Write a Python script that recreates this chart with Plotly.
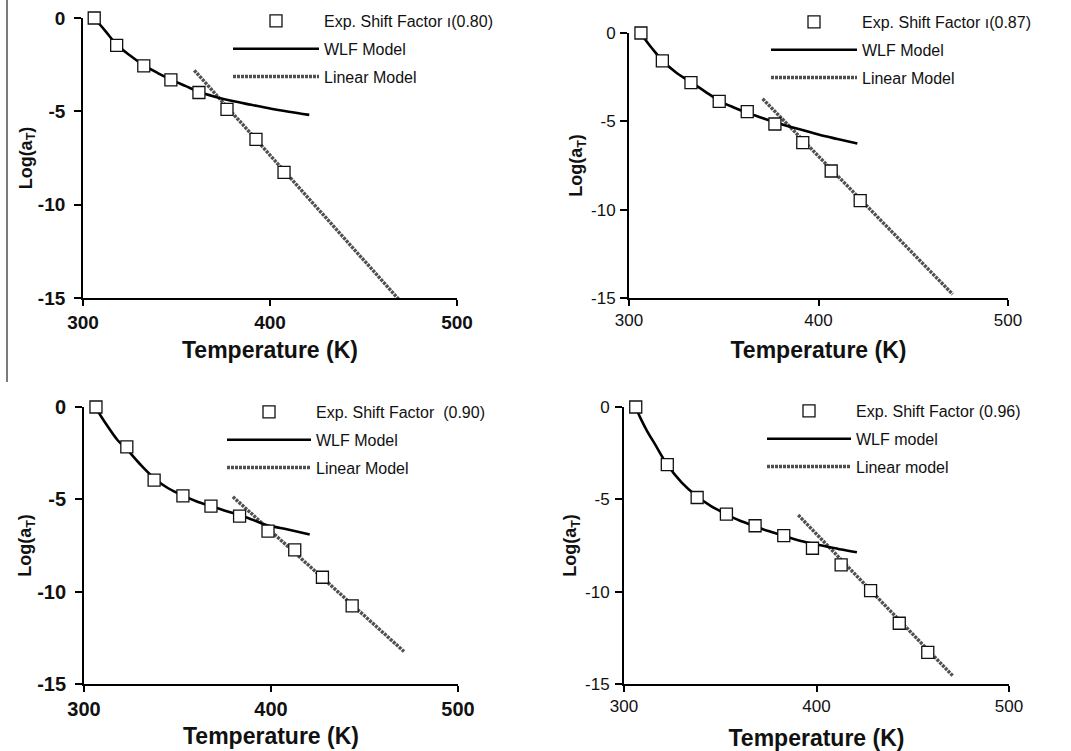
import plotly.graph_objects as go

# ---------------- data ----------------
# Panel 1 (0.80)
t_exp1 = [306, 318, 332.5, 347, 362, 377, 392.5, 407.5]
y_exp1 = [0, -1.47, -2.56, -3.31, -3.99, -4.89, -6.5, -8.27]
t_wlf1 = [306, 312, 318, 325, 332, 340, 347, 355, 362, 370, 380, 390, 400, 410, 421]
y_wlf1 = [0, -0.7, -1.42, -2.0, -2.5, -2.95, -3.3, -3.65, -3.95, -4.2, -4.45, -4.65, -4.85, -5.02, -5.19]
t_lin1 = [359.5, 470]
y_lin1 = [-2.8, -15.2]

# Panel 2 (0.87)
t_exp2 = [306.3, 317.6, 332.7, 347.6, 362.4, 377, 391.7, 406.7, 422]
y_exp2 = [0, -1.58, -2.81, -3.87, -4.45, -5.15, -6.21, -7.81, -9.49]
t_wlf2 = [306, 312, 318, 325, 333, 340, 348, 355, 362, 370, 377, 385, 392, 400, 410, 420.5]
y_wlf2 = [0, -0.85, -1.6, -2.25, -2.8, -3.3, -3.85, -4.2, -4.5, -4.8, -5.05, -5.3, -5.5, -5.75, -6.0, -6.25]
t_lin2 = [370.5, 470.8]
y_lin2 = [-3.72, -14.79]

# Panel 3 (0.90)
t_exp3 = [306.4, 322.9, 337.5, 352.9, 367.9, 383.2, 398.4, 412.7, 427.5, 443.4]
y_exp3 = [0, -2.16, -3.96, -4.81, -5.37, -5.91, -6.72, -7.74, -9.22, -10.77]
t_wlf3 = [306, 312, 318, 323, 330, 338, 345, 353, 360, 368, 375, 383, 390, 398, 405, 412, 420.7]
y_wlf3 = [0, -0.95, -1.8, -2.3, -3.1, -3.9, -4.4, -4.8, -5.1, -5.37, -5.6, -5.85, -6.1, -6.4, -6.55, -6.7, -6.9]
t_lin3 = [379.6, 471.1]
y_lin3 = [-4.86, -13.24]

# Panel 4 (0.96)
t_exp4 = [306.1, 322.5, 338, 353.2, 368.1, 383, 397.9, 412.8, 428.1, 443, 457.8]
y_exp4 = [0, -3.12, -4.9, -5.8, -6.43, -6.97, -7.65, -8.55, -9.94, -11.71, -13.29]
t_wlf4 = [306, 309, 312, 316, 322, 330, 338, 345, 353, 360, 368, 375, 383, 390, 398, 405, 413, 421]
y_wlf4 = [0, -0.7, -1.3, -2.0, -3.05, -4.1, -4.85, -5.35, -5.8, -6.15, -6.45, -6.72, -6.97, -7.2, -7.4, -7.55, -7.72, -7.87]
t_lin4 = [390.5, 470.7]
y_lin4 = [-5.85, -14.55]

x_ticks = [300, 400, 500]
y_ticks = [0, -5, -10, -15]
y_ticktext = ["0", "-5", "-10", "-15"]

exp_names = ["Exp. Shift Factor \u0131(0.80)", "Exp. Shift Factor \u0131(0.87)",
             "Exp. Shift Factor  (0.90)", "Exp. Shift Factor (0.96)"]
wlf_names = ["WLF Model", "WLF Model", "WLF Model", "WLF model"]
lin_names = ["Linear Model", "Linear Model", "Linear Model", "Linear model"]

panels = [
    (t_exp1, y_exp1, t_wlf1, y_wlf1, t_lin1, y_lin1),
    (t_exp2, y_exp2, t_wlf2, y_wlf2, t_lin2, y_lin2),
    (t_exp3, y_exp3, t_wlf3, y_wlf3, t_lin3, y_lin3),
    (t_exp4, y_exp4, t_wlf4, y_wlf4, t_lin4, y_lin4),
]

W, H = 1071, 751
# axis pixel boxes: (x_left, x_right, y_top, y_bottom)
boxes = [(83, 457, 18, 298), (629, 1008, 33, 298), (84, 458, 407, 684), (624, 1009, 407, 684)]
bold_ticks = [True, False, True, False]
tick_sizes = [19, 17, 20, 17]
ylabel_standoff = [5, 1, 5, 2]
ytitle_standoff = [1, 4, 1, 4]
xtitle_standoff = [10, 13, 9, 15]
# legend: (left px, top px, itemwidth)
legends = [(228, 4, 86), (766, 5, 86), (222, 395, 84), (762, 394, 84)]

FONT = "Liberation Sans, Arial, sans-serif"
fig = go.Figure()

for i, (te, ye, tw, yw, tl, yl) in enumerate(panels):
    n = "" if i == 0 else str(i + 1)
    xa, ya = "x" + n, "y" + n
    lg = "legend" + n
    fig.add_trace(go.Scatter(x=tl, y=yl, mode="lines", name=lin_names[i], xaxis=xa, yaxis=ya,
                             line=dict(color="#505050", width=3.4, dash="3px,1px"),
                             legend=lg, legendgroup=f"lin{i}", legendrank=3))
    fig.add_trace(go.Scatter(x=tw, y=yw, mode="lines", name=wlf_names[i], xaxis=xa, yaxis=ya,
                             line=dict(color="black", width=2.6, shape="spline"),
                             legend=lg, legendgroup=f"wlf{i}", legendrank=2))
    fig.add_trace(go.Scatter(x=te, y=ye, mode="markers", name=exp_names[i], xaxis=xa, yaxis=ya,
                             marker=dict(symbol="square", size=12, color="white",
                                         line=dict(color="#111", width=1.3)),
                             cliponaxis=False,
                             legend=lg, legendgroup=f"exp{i}", legendrank=1))

layout = dict(width=W, height=H, margin=dict(l=0, r=0, t=0, b=0, autoexpand=False),
              paper_bgcolor="white", plot_bgcolor="white", showlegend=True,
              font=dict(family=FONT, color="#111"))

for i, (xl, xr, yt, yb) in enumerate(boxes):
    n = "" if i == 0 else str(i + 1)
    tf = dict(family=FONT, size=tick_sizes[i], color="#111",
              weight="bold" if bold_ticks[i] else "normal")
    layout["xaxis" + n] = dict(domain=[xl / W, xr / W], range=[300, 500], anchor="y" + n,
                               tickvals=x_ticks, ticks="outside", ticklen=6, tickwidth=1.5,
                               tickcolor="black", showline=True, linecolor="black", linewidth=1.8,
                               showgrid=False, zeroline=False, tickfont=tf, automargin=False,
                               title=dict(text="Temperature (K)", standoff=xtitle_standoff[i],
                                          font=dict(family=FONT, size=23, weight="bold", color="#111")))
    layout["yaxis" + n] = dict(domain=[1 - yb / H, 1 - yt / H], range=[-15, 0], anchor="x" + n,
                               tickvals=y_ticks, ticktext=y_ticktext, ticks="outside", ticklen=7,
                               tickwidth=1.5, tickcolor="black", showline=True, linecolor="black",
                               linewidth=1.8, showgrid=False, zeroline=False, tickfont=tf,
                               ticklabelstandoff=ylabel_standoff[i], automargin=False,
                               title=dict(text="Log(a<sub>T</sub>)", standoff=ytitle_standoff[i],
                                          font=dict(family=FONT, size=18, weight="bold", color="#111")))

for i, (lx, ly, iw) in enumerate(legends):
    n = "" if i == 0 else str(i + 1)
    layout["legend" + n] = dict(x=lx / W, y=1 - ly / H, xanchor="left", yanchor="top",
                                bgcolor="rgba(0,0,0,0)", borderwidth=0, itemwidth=iw,
                                traceorder="grouped", tracegroupgap=4,
                                font=dict(family=FONT, size=16, color="#111"))

layout["shapes"] = [dict(type="line", xref="paper", yref="paper", x0=7 / W, x1=7 / W,
                         y0=1, y1=1 - 382 / H, line=dict(color="#222", width=1.2))]

fig.update_layout(**layout)
fig.write_html("out.html")
